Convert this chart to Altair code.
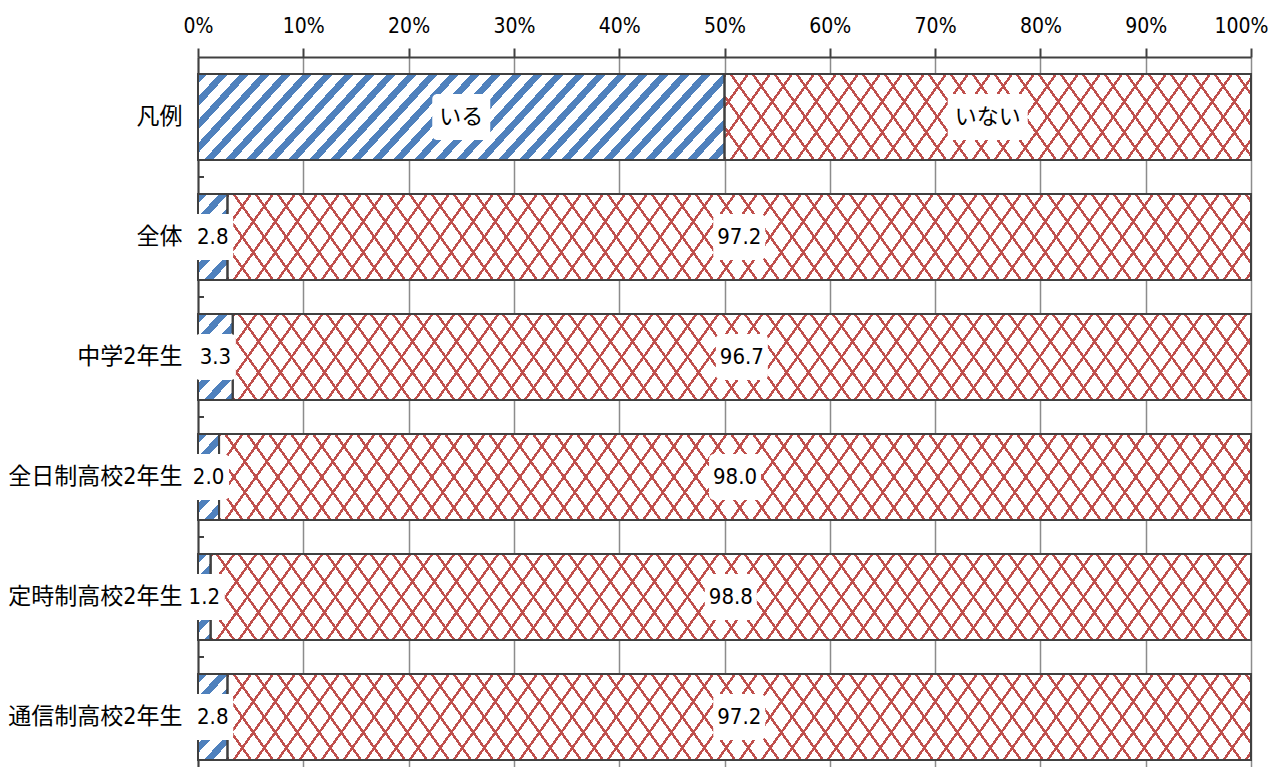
import altair as alt
import pandas as pd

# ---- data ----
categories = ["凡例", "全体", "中学2年生", "全日制高校2年生", "定時制高校2年生", "通信制高校2年生"]
series_names = ["いる", "いない"]
yes_values = [50.0, 2.8, 3.3, 2.0, 1.2, 2.8]
no_values = [50.0, 97.2, 96.7, 98.0, 98.8, 97.2]
x_ticks = [0, 10, 20, 30, 40, 50, 60, 70, 80, 90, 100]

# ---- layout / style ----
W, H = 1053, 710
STEP = 120
BAR_H = 86
P_IN = (STEP - BAR_H) / STEP
OUTER = H - STEP * (len(categories) - P_IN)      # total outer space
TOP_GAP = (STEP - BAR_H) / 2
FONT = "'Liberation Sans Narrow', 'DejaVu Sans Condensed', 'Noto Sans CJK JP', sans-serif"
BLUE = "#4f81bd"
RED = "#c0504d"
DARK = "#404040"

rows = []
for c, yv, nv in zip(categories, yes_values, no_values):
    legend = c == "凡例"
    rows.append(dict(cat=c, series=series_names[0], value=yv, start=0.0, end=yv,
                     label=series_names[0] if legend else f"{yv:.1f}"))
    rows.append(dict(cat=c, series=series_names[1], value=nv, start=yv, end=min(100.0, yv + nv),
                     label=series_names[1] if legend else f"{nv:.1f}"))
df = pd.DataFrame(rows)
df["mid"] = (df["start"] + df["end"]) / 2


def text_px(s):
    w = 0
    for ch in s:
        if ch.isdigit():
            w += 11
        elif ch == ".":
            w += 5
        else:
            w += 22
    return w


df["half"] = df["label"].map(lambda s: (text_px(s) + 14) / 2 * 100 / W)
df["lo"] = df["mid"] - df["half"]
df["hi"] = df["mid"] + df["half"]


def stripe_gradient(w, h, m, period_x, line_x, color, bg, direction, phase=0.0):
    """Linear gradient (objectBoundingBox units) that draws repeated diagonal lines."""
    L = m * w + h
    k = L / (m * m * w * w + h * h)
    a, b = k * m * w, k * h
    if direction == "/":
        x1, y1, x2, y2 = 0, 0, a, b
    else:
        x1, y1, x2, y2 = 0, 1, a, 1 - b
    P = m * period_x / L
    lw = m * line_x / L
    stops = [{"offset": 0, "color": bg}]
    s = phase * P - P
    while s < 1:
        e = s + lw
        if e > 0:
            s0, e0 = max(0.0, s), min(1.0, e)
            stops += [{"offset": s0, "color": bg}, {"offset": s0, "color": color},
                      {"offset": e0, "color": color}, {"offset": e0, "color": bg}]
        s += P
    stops.append({"offset": 1, "color": bg})
    return {"gradient": "linear", "x1": x1, "y1": y1, "x2": x2, "y2": y2, "stops": stops}


yscale = alt.Scale(domain=categories, paddingInner=P_IN, paddingOuter=OUTER / 2 / STEP,
                   align=TOP_GAP / OUTER)
yaxis = alt.Axis(domainColor=DARK, domainWidth=2, ticks=False, labelFontSize=23,
                 labelColor="black", labelPadding=16, title=None, grid=False,
                 labelFont=FONT)
xscale = alt.Scale(domain=[0, 100], nice=False)
xaxis = alt.Axis(orient="top", values=x_ticks, labelExpr="datum.value + '%'", grid=True,
                 gridColor="#8c8c8c", gridWidth=1.5, domainColor=DARK, domainWidth=2,
                 tickColor=DARK, tickWidth=2, tickSize=9, labelFontSize=21, labelPadding=12,
                 labelColor="black", title=None, labelFont=FONT, labelFlush=False,
                 labelAlign={"condition": {"test": "datum.value == 100", "value": "right"},
                             "value": "center"},
                 labelOffset={"condition": {"test": "datum.value == 100", "value": 17},
                              "value": 0})


def ye(**kw):
    return alt.Y("cat:N", scale=yscale, axis=yaxis, title=None, **kw)


def xe(field):
    return alt.X(f"{field}:Q", scale=xscale, axis=xaxis, title=None)


base = alt.Chart().mark_bar(fill="white").encode(x=xe("start"), x2="end", y=ye())

TRANS = "rgba(255,255,255,0)"
patterns = []
for c in categories:
    for s in series_names:
        r = df[(df.cat == c) & (df.series == s)].iloc[0]
        w = (r.end - r.start) / 100 * W
        flt = f"datum.cat == '{c}' && datum.series == '{s}'"
        if s == series_names[0]:
            g = stripe_gradient(w, BAR_H, 1.1, 21, 9, BLUE, "white", "/")
            patterns.append(alt.Chart().transform_filter(flt).mark_bar(fill=g)
                            .encode(x=xe("start"), x2="end", y=ye()))
        else:
            for d in ["/", "\\"]:
                g = stripe_gradient(w, BAR_H, 1.4, 22, 3.0, RED, TRANS, d)
                patterns.append(alt.Chart().transform_filter(flt).mark_bar(fill=g)
                                .encode(x=xe("start"), x2="end", y=ye()))

border = alt.Chart().mark_bar(fillOpacity=0, stroke=DARK, strokeWidth=2).encode(
    x=xe("start"), x2="end", y=ye())

ticks = alt.Chart().mark_rule(color=DARK, strokeWidth=2, yOffset=TOP_GAP).encode(
    y=ye(bandPosition=1), x=alt.value(0), x2=alt.value(6))

boxes = alt.Chart().mark_bar(fill="white", height=46, cornerRadius=5).encode(
    x=xe("lo"), x2="hi", y=ye())

labels = alt.Chart().mark_text(fontSize=22, color="black", font=FONT).encode(
    x=xe("mid"), y=ye(), text="label:N")

chart = alt.layer(base, *patterns, border, ticks, boxes, labels, data=df).properties(
    width=W, height=H, autosize="none",
    padding={"left": 190, "top": 49, "right": 18, "bottom": 0},
).configure_view(stroke=None).configure(font=FONT)

chart.save("out.html", embed_options={"renderer": "svg", "actions": False})
